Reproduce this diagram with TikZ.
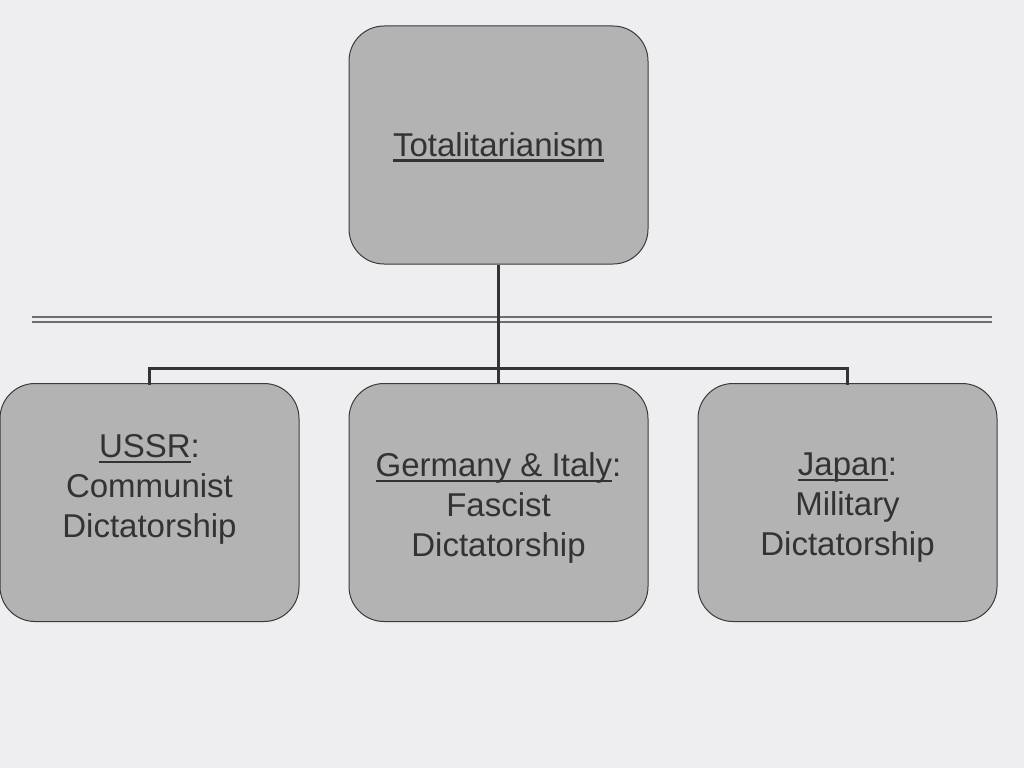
\documentclass[tikz,border=0pt]{standalone}
\usepackage{fontspec}
\setmainfont{Liberation Sans}
\definecolor{bgc}{HTML}{EEEEF0}
\definecolor{boxc}{HTML}{B3B3B3}
\definecolor{edgec}{HTML}{3A3A3A}
\definecolor{txtc}{HTML}{333333}
\definecolor{rulec}{HTML}{6E6E6E}
\newcommand\myul[1]{\setbox0\hbox{#1}\rlap{\vrule height -3pt depth 5.5pt width \wd0}\box0}
\begin{document}
\begin{tikzpicture}[x=1pt,y=-1pt,
  card/.style={draw=edgec, fill=boxc, line width=1pt, rounded corners=35pt,
    minimum width=299pt, minimum height=238pt, inner sep=0pt},
  lbl/.style={text=txtc, align=center, inner sep=0pt,
    font=\fontsize{33}{40}\selectfont},
  link/.style={draw=txtc, line width=3pt},
  rl/.style={draw=rulec, line width=2pt}]
\useasboundingbox[fill=bgc] (0,0) rectangle (1024,768);
% decorative double line
\draw[rl] (32,316.5) -- (992,316.5);
\draw[rulec, line width=1.2pt] (32,322) -- (62,322);
\draw[rl] (62,322) -- (992,322);
% boxes
\node[card] (top) at (498.5,145) {};
\node[card] (left) at (149.5,502.5) {};
\node[card] (mid) at (498.5,502.5) {};
\node[card] (right) at (847.5,502.5) {};
% connectors
\coordinate (bar) at (0,368);
\draw[link] (top.south) -- (mid.north);
\draw[link, line cap=rect] (left.north) -- (left.north |- bar) -- (right.north |- bar) -- (right.north);
% labels
\node[lbl] (ttop) at (498.5,147) {\myul{Totalitarianism}};
\node[lbl] (tleft) at (149.5,489.5) {\myul{USSR}:\\Communist\\Dictatorship};
\node[lbl] (tmid) at (498.5,508) {\myul{Germany \& Italy}:\\Fascist\\Dictatorship};
\node[lbl] (tright) at (847.5,508) {\myul{Japan}:\\Military\\Dictatorship};
\end{tikzpicture}
\end{document}
